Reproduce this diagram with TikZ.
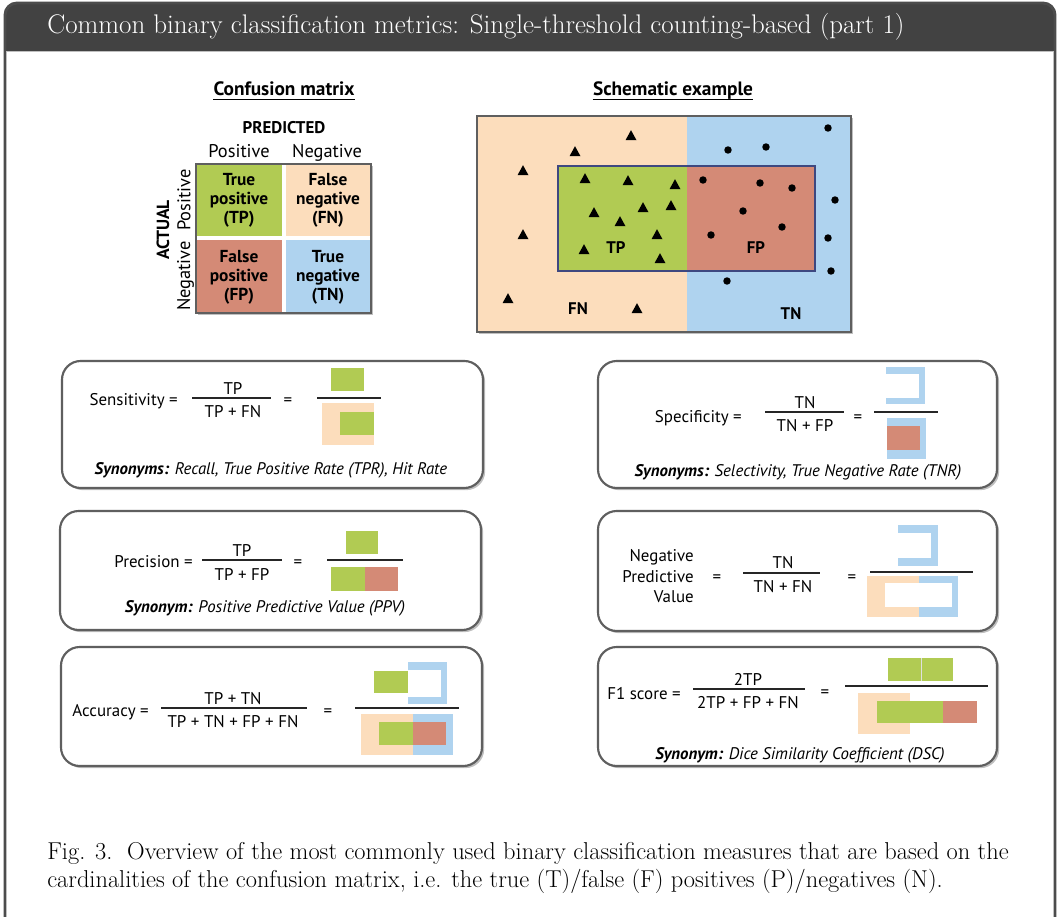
\documentclass[tikz,border=0pt]{standalone}
\usepackage{fontspec}
\newfontfamily\sans{PT Sans}
\usetikzlibrary{shadows,fit}

\definecolor{cTP}{RGB}{177,203,83}
\definecolor{cFN}{RGB}{252,221,188}
\definecolor{cFP}{RGB}{212,138,118}
\definecolor{cTN}{RGB}{175,211,239}
\definecolor{hdr}{RGB}{66,66,66}
\definecolor{navy}{RGB}{62,72,128}
\definecolor{edge}{RGB}{95,95,95}

\tikzset{
  frameline/.style={draw=black!70, line width=2.2pt},
  mbox/.style={draw=edge, line width=1.6pt, rounded corners=14pt, fill=white, inner sep=0pt,
    drop shadow={shadow xshift=1.6pt, shadow yshift=-1.6pt, opacity=.25, fill=black}},
  plainbox/.style={inner sep=0pt, draw=none},
  txt/.style={font=\sans\fontsize{12.7}{14}\selectfont, inner sep=0pt, anchor=base},
  rtxt/.style={txt, anchor=base east},
  syn/.style={font=\sans\itshape\fontsize{12.6}{14}\selectfont, inner sep=0pt, anchor=base},
  celltxt/.style={font=\sans\bfseries\fontsize{13}{14.3}\selectfont, align=center, inner sep=0pt},
  title/.style={font=\sans\bfseries\fontsize{14.5}{16}\selectfont, inner sep=0pt, anchor=base},
  head/.style={font=\sans\fontsize{13.8}{15}\selectfont, inner sep=0pt, anchor=base},
  side/.style={font=\sans\fontsize{13.8}{15}\selectfont, inner sep=0pt, rotate=90},
  slbl/.style={font=\sans\bfseries\fontsize{12.6}{14}\selectfont, inner sep=0pt},
  bar/.style={line width=0.8pt, draw=black!85},
  serif/.style={inner sep=0pt, anchor=base west},
}

\begin{document}
\begin{tikzpicture}[x=0.75pt,y=-0.75pt]
\useasboundingbox (0,0) rectangle (1057,917);
\fill[white] (0,0) rectangle (1057,917);

% ---------- outer frame with dark title band ----------
\begin{scope}
  \clip (0,0) rectangle (1057,917);
  \begin{scope}
    \clip (0,0) rectangle (1057,51);
    \fill[hdr, rounded corners=9pt] (5,3) rectangle (1055,120);
  \end{scope}
  \draw[frameline] (5,950) [rounded corners=9pt] -- (5,3) -- (1055,3) -- (1055,950);
  \draw[black!25, line width=1.2pt] (6.5,51.5) -- (1053.5,51.5);
\end{scope}
\node[serif, text=white, font=\fontsize{20.2}{24}\selectfont] (heading) at (47,34)
  {Common binary classification metrics: Single-threshold counting-based (part 1)};

% ---------- confusion matrix ----------
\node[title] (cmtitle) at (284,96) {Confusion matrix};
\draw[line width=0.9pt] ([yshift=-2.4pt]cmtitle.base west) -- ([yshift=-2.4pt]cmtitle.base east);
\node[font=\sans\bfseries\fontsize{12.7}{14}\selectfont, inner sep=0pt, anchor=base] (pred) at (284,133) {PREDICTED};
\node[head] (ppos) at (239,157) {Positive};
\node[head] (pneg) at (327,157) {Negative};

\node[plainbox, fill=white, draw=edge, line width=1.6pt,
      drop shadow={shadow xshift=1.6pt, shadow yshift=-1.6pt, opacity=.25, fill=black},
      fit={(196,164) (371,313)}] (cmframe) {};
\node[plainbox, fill=cTP, fit={(196,164) (282,236)}] (cTPcell) {};
\node[plainbox, fill=cFN, fit={(286,164) (371,236)}] (cFNcell) {};
\node[plainbox, fill=cFP, fit={(196,240) (282,313)}] (cFPcell) {};
\node[plainbox, fill=cTN, fit={(286,240) (371,313)}] (cTNcell) {};
\draw[draw=edge, line width=1.6pt] (196,164) rectangle (371,313);
\node[celltxt] (tTP) at (239,200) {True\\positive\\(TP)};
\node[celltxt] (tFN) at (328,200) {False\\negative\\(FN)};
\node[celltxt] (tFP) at (239,277) {False\\positive\\(FP)};
\node[celltxt] (tTN) at (328,277) {True\\negative\\(TN)};
\node[font=\sans\bfseries\fontsize{13.2}{14}\selectfont, inner sep=0pt, rotate=90] (actual) at (163,230) {ACTUAL};
\node[side] (apos) at (184,200) {Positive};
\node[side] (aneg) at (185.5,276) {Negative};

% ---------- schematic example ----------
\node[title] (sctitle) at (673,96) {Schematic example};
\draw[line width=0.9pt] ([yshift=-2.4pt]sctitle.base west) -- ([yshift=-2.4pt]sctitle.base east);
\node[plainbox, fill=white,
      drop shadow={shadow xshift=1.6pt, shadow yshift=-1.6pt, opacity=.25, fill=black},
      fit={(477,116) (851,332)}] (scframe) {};
\fill[cFN] (477,116) rectangle (687,332);
\fill[cTN] (687,116) rectangle (851,332);
\fill[cTP] (558,166) rectangle (687,271);
\fill[cFP] (687,166) rectangle (815,271);
\node[plainbox, draw=navy, line width=1.6pt, fit={(558,166) (815,271)}] (predbox) {};
\draw[draw=edge, line width=1.6pt] (477,116) rectangle (851,332);
\foreach \px/\py in {631/136, 575/152, 523/171, 523/235, 508/299, 637/309,
                     585/179, 628/181, 675/185, 594/213, 643/208, 671/206,
                     620/222, 657/235, 584/250, 660/259}
  \fill (\px,\py) ++(-5.5,4.2) -- ++(11,0) -- ++(-5.5,-10) -- cycle;
\foreach \px/\py in {828/128, 728/150, 766/147, 703/180, 760/183, 792/188,
                     835/200, 743/211, 782/227, 711/235, 828/238, 831/271, 727/281}
  \fill (\px,\py) circle (2.8pt);
\node[slbl] (lTP) at (616,248) {TP};
\node[slbl] (lFP) at (756,248) {FP};
\node[slbl] (lFN) at (578,309) {FN};
\node[slbl] (lTN) at (791,314) {TN};

% ---------- sensitivity ----------
\node[mbox, fit={(62,361) (483,488)}] (sens) {};
\node[rtxt] (sensL) at (178,405) {Sensitivity =};
\node[txt] (sensN) at (233,394) {TP};
\draw[bar] (192,398) -- (271,398);
\node[txt] (sensD) at (233,417) {TP + FN};
\node[txt] (sensE) at (288,405) {=};
\draw[bar] (317,398) -- (381,398);
\fill[cTP] (331,368) rectangle (364,391);
\fill[cFN] (322,403) rectangle (374,445);
\fill[cTP] (340,412) rectangle (374,435);
\node[syn] (sensS) at (271,474) {\bfseries Synonyms: \mdseries Recall, True Positive Rate (TPR), Hit Rate};

% ---------- specificity ----------
\node[mbox, fit={(598,361) (997,488)}] (spec) {};
\node[rtxt] (specL) at (742,422) {Specificity =};
\node[txt] (specN) at (805,408) {TN};
\draw[bar] (765,412) -- (844,412);
\node[txt] (specD) at (805,431) {TN + FP};
\node[txt] (specE) at (858,422) {=};
\draw[bar] (874,412) -- (938,412);
\fill[cTN] (886,367) rectangle (925,404);
\fill[white] (886,374) rectangle (919,398);
\fill[cTN] (887,418) rectangle (926,459);
\fill[cFP] (887,426) rectangle (920,450);
\node[syn] (specS) at (798,476) {\bfseries Synonyms: \mdseries Selectivity, True Negative Rate (TNR)};

% ---------- precision ----------
\node[mbox, fit={(60,511) (481,630)}] (prec) {};
\node[rtxt] (precL) at (193,567) {Precision =};
\node[txt] (precN) at (242,556) {TP};
\draw[bar] (202,560) -- (282,560);
\node[txt] (precD) at (242,580) {TP + FP};
\node[txt] (precE) at (298,567) {=};
\draw[bar] (327,560) -- (403,560);
\fill[cTP] (346,531) rectangle (378,554);
\fill[cTP] (331,567) rectangle (365,591);
\fill[cFP] (365,567) rectangle (398,591);
\node[syn] (precS) at (265,612) {\bfseries Synonym: \mdseries Positive Predictive Value (PPV)};

% ---------- negative predictive value ----------
\node[mbox, fit={(598,511) (997,631)}] (npv) {};
\node[rtxt] (npvL1) at (694,561) {Negative};
\node[rtxt] (npvL2) at (694,582) {Predictive};
\node[rtxt] (npvL3) at (694,602) {Value};
\node[txt] (npvE1) at (717,582) {=};
\node[txt] (npvN) at (783,568) {TN};
\draw[bar] (743,573) -- (820,573);
\node[txt] (npvD) at (783,592) {TN + FN};
\node[txt] (npvE2) at (852,582) {=};
\draw[bar] (870,572) -- (973,572);
\fill[cTN] (898,525) rectangle (938,566);
\fill[white] (898,533) rectangle (931,558);
\fill[cFN] (867,576) rectangle (919,617);
\fill[cTN] (919,576) rectangle (958,617);
\fill[white] (885,583) rectangle (952,607);

% ---------- accuracy ----------
\node[mbox, fit={(61,647) (482,766)}] (acc) {};
\node[rtxt] (accL) at (149,716) {Accuracy =};
\node[txt] (accN) at (233,704) {TP + TN};
\draw[bar] (161,708) -- (307,708);
\node[txt] (accD) at (233,727) {TP + TN + FP + FN};
\node[txt] (accE) at (328,716) {=};
\draw[bar] (355,708) -- (459,708);
\fill[cTN] (408,662) rectangle (447,704);
\fill[white] (408,670) rectangle (441,697);
\fill[cTP] (374,671) rectangle (408,693);
\fill[cFN] (361,714) rectangle (413,755);
\fill[cTN] (413,714) rectangle (453,755);
\fill[cTP] (379,722) rectangle (413,745);
\fill[cFP] (413,722) rectangle (446,745);

% ---------- F1 score ----------
\node[mbox, fit={(598,647) (997,766)}] (fone) {};
\node[rtxt] (foneL) at (681,699) {F1 score =};
\node[txt] (foneN) at (748,685) {2TP};
\draw[bar] (693,689) -- (805,689);
\node[txt] (foneD) at (748,708) {2TP + FP + FN};
\node[txt] (foneE) at (825,697) {=};
\draw[bar] (845,686) -- (988,686);
\fill[cTP] (888,658) rectangle (953,681);
\draw[black!12, line width=0.5pt] (921,658) -- (921,681);
\fill[cFN] (858,693) rectangle (910,734);
\fill[cTP] (877,701) rectangle (943,723);
\fill[cFP] (943,701) rectangle (977,723);
\node[syn] (foneS) at (800,759) {\bfseries Synonym: \mdseries Dice Similarity Coefficient (DSC)};

% ---------- caption ----------
\node[serif, font=\fontsize{18.3}{22}\selectfont] (cap1) at (47,859)
  {Fig. 3.\ \ Overview of the most commonly used binary classification measures that are based on the};
\node[serif, font=\fontsize{18.3}{22}\selectfont] (cap2) at (47,887)
  {cardinalities of the confusion matrix, i.e. the true (T)/false (F) positives (P)/negatives (N).};
\end{tikzpicture}
\end{document}
